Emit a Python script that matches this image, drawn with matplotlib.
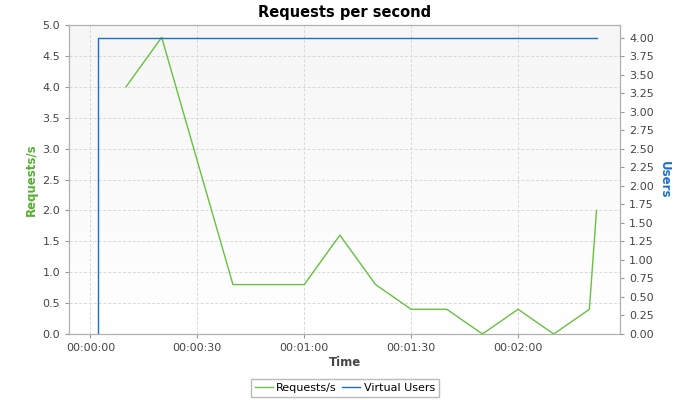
import numpy as np
import matplotlib
matplotlib.use('Agg')
import matplotlib.pyplot as plt
from matplotlib.ticker import FuncFormatter, MultipleLocator

# data (time in seconds)
rps_t = [10, 20, 40, 60, 70, 80, 90, 100, 110, 120, 130, 140, 142]
rps_v = [4.0, 4.8, 0.8, 0.8, 1.6, 0.8, 0.4, 0.4, 0.0, 0.4, 0.0, 0.4, 2.0]
users_t = [2, 2, 142]
users_v = [0, 4, 4]

green = '#66c23f'
blue = '#1a6fd1'
grey_txt = '#444444'

plt.rcParams['font.family'] = ['DejaVu Sans']
plt.rcParams['font.size'] = 8

fig = plt.figure(figsize=(6.9, 4.0), dpi=100)
ax = fig.add_axes([0.1, 0.165, 0.7986, 0.7725])
ax2 = ax.twinx()

# light gradient background, grey at top to white at bottom
grad = np.linspace(0, 1, 256).reshape(-1, 1)
ax.imshow(grad, cmap=matplotlib.colors.LinearSegmentedColormap.from_list('g', ['#f6f6f6', '#ffffff']),
          aspect='auto', extent=[0, 1, 0, 1], transform=ax.transAxes, zorder=0)

l1, = ax.plot(rps_t, rps_v, color=green, lw=1, label='Requests/s', zorder=3)
l2, = ax2.plot(users_t, users_v, color=blue, lw=1, label='Virtual Users', zorder=3)

ax.set_xlim(-6, 148.6)
ax.set_ylim(0, 5.0)
ax2.set_ylim(0, 4.175)

ax.yaxis.set_major_locator(MultipleLocator(0.5))
ax2.yaxis.set_major_locator(MultipleLocator(0.25))
ax.xaxis.set_major_locator(MultipleLocator(30))
ax.xaxis.set_major_formatter(FuncFormatter(
    lambda s, p: '%02d:%02d:%02d' % (int(s) // 3600, (int(s) % 3600) // 60, int(s) % 60)))
ax.yaxis.set_major_formatter(FuncFormatter(lambda v, p: '%.1f' % v))
ax2.yaxis.set_major_formatter(FuncFormatter(lambda v, p: '%.2f' % v))

ax.grid(True, color='#d8d8d8', ls=(0, (3, 2)), lw=0.7, zorder=1)
for a in (ax, ax2):
    for sp in a.spines.values():
        sp.set_color('#b0b0b0')
    a.tick_params(colors='#999999', labelcolor=grey_txt, length=3, labelsize=8)

ax.set_title('Requests per second', fontsize=10.5, fontweight='bold', color='black', pad=6)
ax.set_xlabel('Time', fontsize=8.5, fontweight='bold', color=grey_txt, labelpad=2)
ax.set_ylabel('Requests/s', fontsize=8.5, fontweight='bold', color='#55b02f', labelpad=3)
ax2.set_ylabel('Users', fontsize=8.5, fontweight='bold', color=blue, rotation=-90, labelpad=12)

leg = fig.legend([l1, l2], ['Requests/s', 'Virtual Users'], loc='center', bbox_to_anchor=(0.5, 0.03),
                 ncol=2, frameon=True, fancybox=False, fontsize=8, handlelength=1.6,
                 columnspacing=0.5, handletextpad=0.3, borderpad=0.35)
leg.get_frame().set_edgecolor('#aaaaaa')
leg.get_frame().set_linewidth(1)

fig.savefig('out.png', dpi=100)
